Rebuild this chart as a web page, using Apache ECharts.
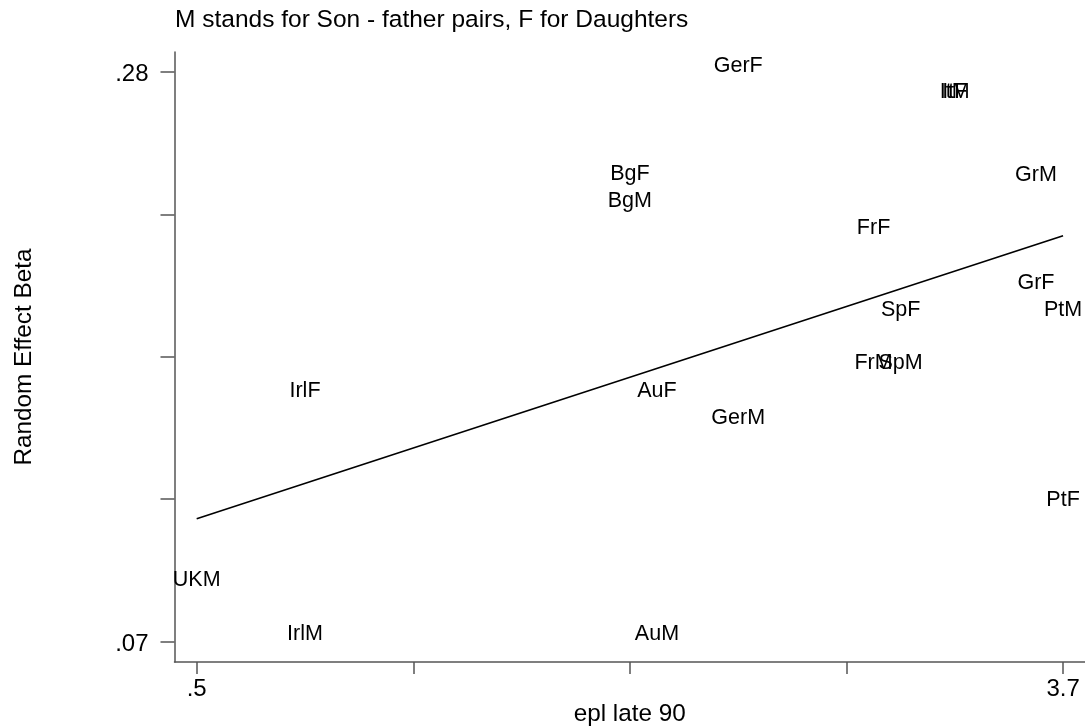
<!DOCTYPE html>
<html>
<head>
<meta charset="utf-8">
<script src="https://cdn.jsdelivr.net/npm/echarts@6/dist/echarts.min.js"></script>
<style>
  html, body { margin: 0; padding: 0; background: #fff; }
  #main { width: 1085px; height: 726px; }
</style>
</head>
<body>
<div id="main"></div>
<script>
// country / sex labels, epl late 90 (x) and random effect beta (y)
const pairLabels = ['GerF', 'ItF', 'ItM', 'BgF', 'BgM', 'GrM', 'FrF', 'GrF', 'SpF', 'PtM',
                    'FrM', 'SpM', 'IrlF', 'AuF', 'GerM', 'PtF', 'UKM', 'IrlM', 'AuM'];
const eplValues = [2.5, 3.3, 3.3, 2.1, 2.1, 3.6, 3.0, 3.6, 3.1, 3.7,
                   3.0, 3.1, 0.9, 2.2, 2.5, 3.7, 0.5, 0.9, 2.2];
const betaValues = [0.282, 0.2724, 0.2724, 0.2424, 0.2323, 0.2421, 0.2225, 0.2023, 0.1921, 0.1921,
                    0.1726, 0.1726, 0.1625, 0.1624, 0.1525, 0.1223, 0.0926, 0.0727, 0.0727];

// fitted line end points
const fitX = [0.5, 3.7];
const fitY = [0.1153, 0.2196];

// axis ticks
const xTicks = [0.5, 1.3, 2.1, 2.9, 3.7];
const xTickLabels = ['.5', '3.7'];
const yTicks = [0.07, 0.1225, 0.175, 0.2275, 0.28];
const yTickLabels = ['.07', '.28'];

const font = '"Liberation Sans", Arial, sans-serif';
const axisColor = '#555';

let myChart = echarts.init(document.getElementById('main'));
myChart.setOption({
  animation: false,
  title: {
    text: 'M stands for Son - father pairs, F for Daughters',
    left: 175,
    top: 8,
    padding: 0,
    textStyle: { fontFamily: font, fontSize: 24.5, fontWeight: 'normal', color: '#000' }
  },
  grid: { left: 174.5, right: 0, top: 52, bottom: 64, outerBoundsMode: 'none', containLabel: false },
  xAxis: {
    type: 'value',
    min: 0.418,
    max: 3.781,
    name: 'epl late 90',
    nameLocation: 'middle',
    nameGap: 40,
    nameMoveOverlap: false,
    nameTextStyle: { fontFamily: font, fontSize: 24.3, color: '#000' },
    splitLine: { show: false },
    axisLine: { onZero: false, lineStyle: { color: axisColor, width: 1.5 } },
    axisTick: { inside: false, length: 12, customValues: xTicks, lineStyle: { color: axisColor, width: 1.5 } },
    axisLabel: {
      customValues: [xTicks[0], xTicks[xTicks.length - 1]],
      margin: 15,
      fontFamily: font,
      fontSize: 24,
      color: '#000',
      formatter: v => (v < 1 ? xTickLabels[0] : xTickLabels[1])
    }
  },
  yAxis: {
    type: 'value',
    min: 0.0625,
    max: 0.2873,
    name: 'Random Effect Beta',
    nameLocation: 'middle',
    nameGap: 138,
    nameMoveOverlap: false,
    nameTextStyle: { fontFamily: font, fontSize: 24.3, color: '#000' },
    splitLine: { show: false },
    axisLine: { show: true, onZero: false, lineStyle: { color: axisColor, width: 1.5 } },
    axisTick: { show: true, length: 14, customValues: yTicks, lineStyle: { color: axisColor, width: 1.5 } },
    axisLabel: {
      customValues: [yTicks[0], yTicks[yTicks.length - 1]],
      margin: 26,
      fontFamily: font,
      fontSize: 24,
      color: '#000',
      formatter: v => '{a|' + (v < 0.1 ? yTickLabels[0] : yTickLabels[1]) + '}',
      rich: { a: { fontFamily: font, fontSize: 24, color: '#000', padding: [6, 0, 0, 0] } }
    }
  },
  series: [
    {
      type: 'scatter',
      symbolSize: 0,
      itemStyle: { color: '#000' },
      emphasis: { disabled: true },
      label: {
        show: true,
        position: 'inside',
        fontFamily: font,
        fontSize: 21.5,
        color: '#000',
        opacity: 1,
        textBorderColor: 'transparent',
        textBorderWidth: 0,
        formatter: p => p.data[2]
      },
      data: pairLabels.map((n, i) => [eplValues[i], betaValues[i], n])
    },
    {
      type: 'line',
      symbol: 'none',
      lineStyle: { color: '#000', width: 1.6 },
      data: fitX.map((x, i) => [x, fitY[i]])
    }
  ]
});
</script>
</body>
</html>
